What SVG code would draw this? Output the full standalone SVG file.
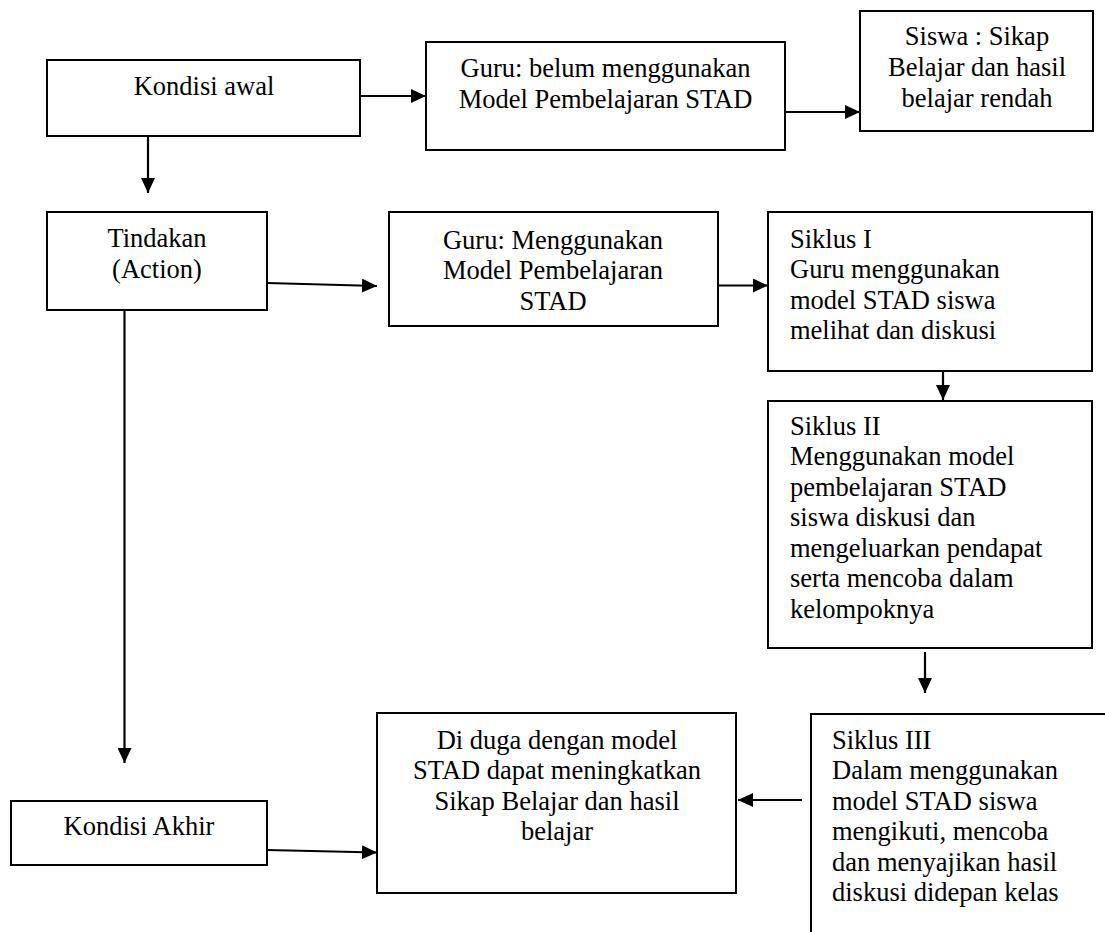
<svg xmlns="http://www.w3.org/2000/svg" width="1105" height="932" viewBox="0 0 1105 932">
<defs>
<marker id="ah" viewBox="0 0 15 14" markerWidth="15" markerHeight="14" refX="15" refY="7" orient="auto" markerUnits="userSpaceOnUse">
<path d="M0,0 L15,7 L0,14 z" fill="#000"/>
</marker>
</defs>
<rect width="1105" height="932" fill="#fff"/>

<g id="connectors" fill="none" stroke="#000" stroke-width="2.2" marker-end="url(#ah)">
<line x1="360" y1="96" x2="426" y2="96"/>
<line x1="785" y1="112" x2="860" y2="112"/>
<line x1="148" y1="136" x2="148" y2="193"/>
<line x1="267" y1="283" x2="377" y2="286"/>
<line x1="718" y1="285.5" x2="768" y2="285.5"/>
<line x1="943" y1="371" x2="943" y2="400"/>
<line x1="925" y1="652" x2="925" y2="693"/>
<line x1="802" y1="800" x2="738" y2="800"/>
<line x1="124.5" y1="310" x2="124.5" y2="763"/>
<line x1="267" y1="850" x2="377" y2="852.5"/>
</g>

<g font-size="26.5">
<g id="kondisi-awal">
<rect fill="#fff" stroke="#000" stroke-width="2" x="47" y="60" width="313" height="76"/>
<text font-family="Liberation Serif" text-anchor="middle" x="204" y="95">Kondisi awal</text>
</g>

<g id="guru-belum">
<rect fill="#fff" stroke="#000" stroke-width="2" x="426" y="42" width="359" height="108"/>
<text font-family="Liberation Serif" text-anchor="middle" x="605.5" y="77">Guru: belum menggunakan</text>
<text font-family="Liberation Serif" text-anchor="middle" x="605.5" y="107.5">Model Pembelajaran STAD</text>
</g>

<g id="siswa-awal">
<rect fill="#fff" stroke="#000" stroke-width="2" x="860" y="11" width="233" height="120"/>
<text font-family="Liberation Serif" text-anchor="middle" x="977" y="45">Siswa : Sikap</text>
<text font-family="Liberation Serif" text-anchor="middle" x="977" y="76">Belajar dan hasil</text>
<text font-family="Liberation Serif" text-anchor="middle" x="977" y="106.5">belajar rendah</text>
</g>

<g id="tindakan">
<rect fill="#fff" stroke="#000" stroke-width="2" x="47" y="212" width="220" height="98"/>
<text font-family="Liberation Serif" text-anchor="middle" x="157" y="247">Tindakan</text>
<text font-family="Liberation Serif" text-anchor="middle" x="157" y="277.5">(Action)</text>
</g>

<g id="guru-menggunakan">
<rect fill="#fff" stroke="#000" stroke-width="2" x="389" y="212" width="329" height="114"/>
<text font-family="Liberation Serif" text-anchor="middle" x="553" y="248.5">Guru: Menggunakan</text>
<text font-family="Liberation Serif" text-anchor="middle" x="553" y="279">Model Pembelajaran</text>
<text font-family="Liberation Serif" text-anchor="middle" x="553" y="309.5">STAD</text>
</g>

<g id="siklus-1">
<rect fill="#fff" stroke="#000" stroke-width="2" x="768" y="212" width="324" height="159"/>
<text font-family="Liberation Serif" x="790" y="247.5">Siklus I</text>
<text font-family="Liberation Serif" x="790" y="278">Guru menggunakan</text>
<text font-family="Liberation Serif" x="790" y="308.5">model STAD siswa</text>
<text font-family="Liberation Serif" x="790" y="339">melihat dan diskusi</text>
</g>

<g id="siklus-2">
<rect fill="#fff" stroke="#000" stroke-width="2" x="768" y="401" width="324" height="247"/>
<text font-family="Liberation Serif" x="790" y="434.5">Siklus II</text>
<text font-family="Liberation Serif" x="790" y="465">Menggunakan model</text>
<text font-family="Liberation Serif" x="790" y="495.5">pembelajaran STAD</text>
<text font-family="Liberation Serif" x="790" y="526">siswa diskusi dan</text>
<text font-family="Liberation Serif" x="790" y="556.5">mengeluarkan pendapat</text>
<text font-family="Liberation Serif" x="790" y="587">serta mencoba dalam</text>
<text font-family="Liberation Serif" x="790" y="617.5">kelompoknya</text>
</g>

<g id="siklus-3">
<path fill="none" stroke="#000" stroke-width="2" d="M1105,714 H811 V932"/>
<text font-family="Liberation Serif" x="832" y="748.5">Siklus III</text>
<text font-family="Liberation Serif" x="832" y="779">Dalam menggunakan</text>
<text font-family="Liberation Serif" x="832" y="809.5">model STAD siswa</text>
<text font-family="Liberation Serif" x="832" y="840">mengikuti, mencoba</text>
<text font-family="Liberation Serif" x="832" y="870.5">dan menyajikan hasil</text>
<text font-family="Liberation Serif" x="832" y="901">diskusi didepan kelas</text>
</g>

<g id="hipotesis">
<rect fill="#fff" stroke="#000" stroke-width="2" x="377" y="713" width="359" height="180"/>
<text font-family="Liberation Serif" text-anchor="middle" x="557" y="748.5">Di duga dengan model</text>
<text font-family="Liberation Serif" text-anchor="middle" x="557" y="779">STAD dapat meningkatkan</text>
<text font-family="Liberation Serif" text-anchor="middle" x="557" y="809.5">Sikap Belajar dan hasil</text>
<text font-family="Liberation Serif" text-anchor="middle" x="557" y="840">belajar</text>
</g>

<g id="kondisi-akhir">
<rect fill="#fff" stroke="#000" stroke-width="2" x="11" y="801" width="256" height="64"/>
<text font-family="Liberation Serif" text-anchor="middle" x="139" y="835">Kondisi Akhir</text>
</g>
</g>
</svg>
